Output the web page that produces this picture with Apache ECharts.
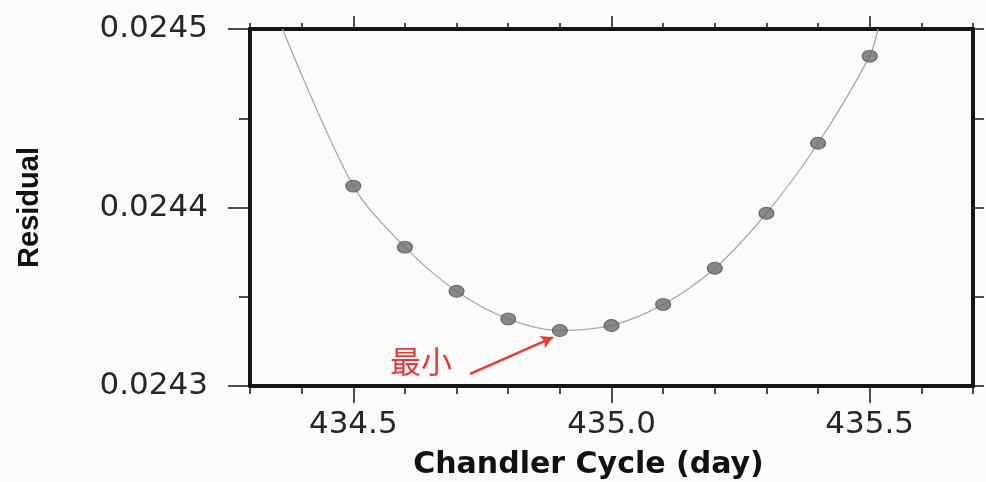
<!DOCTYPE html>
<html>
<head>
<meta charset="utf-8">
<script src="https://cdn.jsdelivr.net/npm/echarts@6/dist/echarts.min.js"></script>
<style>
  html, body { margin: 0; padding: 0; background: #fbfbf9; }
  #chart { width: 986px; height: 482px; }
</style>
</head>
<body>
<div id="chart"></div>
<script>
// Residual of the fit against the trial Chandler period (days)
const days = [434.5, 434.6, 434.7, 434.8, 434.9, 435.0, 435.1, 435.2, 435.3, 435.4, 435.5];
const residuals = [0.024412, 0.0243778, 0.0243531, 0.0243376, 0.0243311, 0.0243339,
                   0.0243457, 0.024366, 0.0243968, 0.024436, 0.0244848];

// fitted curve: the sampled points plus where it leaves the top of the frame
const curveDays = [434.363, 434.5, 434.6, 434.7, 434.8, 434.9, 435.0, 435.1, 435.2, 435.3, 435.4, 435.5, 435.516];
const curveResiduals = [0.0245, 0.024412, 0.0243778, 0.0243531, 0.0243376, 0.0243311, 0.0243339,
                        0.0243457, 0.024366, 0.0243968, 0.024436, 0.0244848, 0.0245];

// axis ranges and tick positions
const dayRange = [434.3, 435.7];
const residRange = [0.0243, 0.0245];
const dayTicksMajor = [434.5, 435.0, 435.5];
const dayTicksMinor = [434.3, 434.4, 434.5, 434.6, 434.7, 434.8, 434.9, 435.0, 435.1, 435.2, 435.3, 435.4, 435.5, 435.6, 435.7];
const residTicksMajor = [0.0243, 0.0244, 0.0245];
const residTicksMinor = [0.02435, 0.02445];
const residTicksRight = [0.0243, 0.02435, 0.0244, 0.02445, 0.0245];

// "minimum" callout: label position and arrow from label to the lowest point
const minLabel = { text: '最小', day: 434.631, resid: 0.0243138 };
const minArrow = { from: [434.7264, 0.0243068], to: [434.8866, 0.0243273] };

const frameColor = '#141414';
const labelFont = 'DejaVu Sans, Liberation Sans, sans-serif';

function tickAxis(position, values, len, withLine) {
  return {
    type: 'value', position: position,
    min: dayRange[0], max: dayRange[1],
    axisLine: { show: withLine, onZero: false, lineStyle: { color: frameColor, width: 4 } },
    axisTick: { show: true, inside: false, length: len, customValues: values,
                lineStyle: { color: frameColor, width: 1.5 } },
    axisLabel: { show: false },
    splitLine: { show: false }
  };
}
function yTickAxis(position, values, len, withLine) {
  return {
    type: 'value', position: position,
    min: residRange[0], max: residRange[1],
    axisLine: { show: withLine, onZero: false, lineStyle: { color: frameColor, width: 4 } },
    axisTick: { show: true, inside: false, length: len, customValues: values,
                lineStyle: { color: frameColor, width: 1.5 } },
    axisLabel: { show: false },
    splitLine: { show: false }
  };
}

const bottomMain = tickAxis('bottom', dayTicksMajor, 17, true);
bottomMain.axisLabel = {
  show: true, customValues: dayTicksMajor, margin: 23,
  formatter: v => Number(v).toFixed(1),
  fontFamily: labelFont, fontSize: 31, color: '#262626'
};
bottomMain.name = 'Chandler Cycle (day)';
bottomMain.nameLocation = 'middle';
bottomMain.nameGap = 64;
bottomMain.nameTextStyle = {
  fontFamily: labelFont, fontSize: 30, fontWeight: 'bold', color: '#111',
  padding: [0, 46, 0, 0]
};

const leftMain = yTickAxis('left', residTicksMajor, 22, true);
leftMain.axisLabel = {
  show: true, customValues: residTicksMajor, margin: 42,
  formatter: v => Number(v).toFixed(4),
  fontFamily: labelFont, fontSize: 31, color: '#262626'
};
leftMain.name = 'Residual';
leftMain.nameLocation = 'middle';
leftMain.nameRotate = 90;
leftMain.nameGap = 206;
leftMain.nameTextStyle = {
  fontFamily: 'Liberation Sans Narrow, Arial Narrow, Liberation Sans, sans-serif',
  fontSize: 29, fontWeight: 'bold', color: '#111'
};

const option = {
  backgroundColor: '#fbfbf9',
  animation: false,
  grid: { left: 250, right: 13, top: 29, bottom: 96, outerBoundsMode: 'none' },
  xAxis: [
    bottomMain,
    tickAxis('bottom', dayTicksMinor, 8, false),
    tickAxis('top', dayTicksMinor, 6, true),
    tickAxis('top', dayTicksMajor, 13, false)
  ],
  yAxis: [
    leftMain,
    yTickAxis('left', residTicksMinor, 11, false),
    yTickAxis('right', residTicksRight, 11, true)
  ],
  series: [
    {
      type: 'line',
      data: curveDays.map((d, i) => [d, curveResiduals[i]]),
      smooth: 0.3,
      showSymbol: false,
      clip: true,
      lineStyle: { color: '#a9a9a9', width: 1.3 },
      silent: true,
      z: 2
    },
    {
      type: 'scatter',
      data: days.map((d, i) => [d, residuals[i]]),
      symbol: 'circle',
      symbolSize: [15, 12],
      itemStyle: { color: '#6c6c6c', borderColor: '#4e4e4e', borderWidth: 1 },
      z: 3,
      markLine: {
        silent: true,
        symbol: ['none', 'arrow'],
        symbolSize: [10, 12],
        label: { show: false },
        lineStyle: { color: '#e53a36', width: 2.5, type: 'solid' },
        data: [[{ coord: minArrow.from }, { coord: minArrow.to }]]
      },
      markPoint: {
        silent: true,
        symbol: 'circle',
        symbolSize: 1,
        itemStyle: { color: 'rgba(0,0,0,0)' },
        label: {
          show: true, position: 'inside',
          formatter: () => minLabel.text,
          fontFamily: 'Noto Sans CJK KR, Noto Sans CJK SC, sans-serif',
          fontSize: 31, color: '#e53a36'
        },
        data: [{ coord: [minLabel.day, minLabel.resid] }]
      }
    }
  ]
};

const chart = echarts.init(document.getElementById('chart'));
chart.setOption(option);
</script>
</body>
</html>
